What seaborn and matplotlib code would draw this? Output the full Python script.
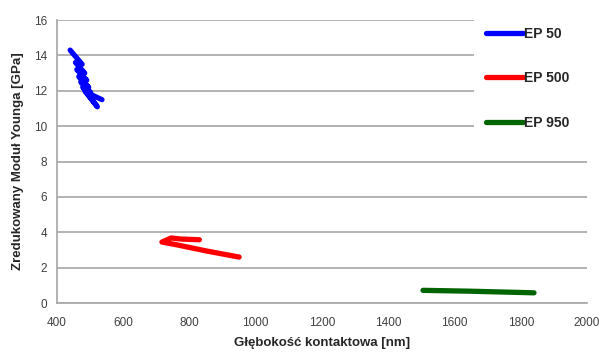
import matplotlib
matplotlib.use("Agg")
import matplotlib.pyplot as plt
import pandas as pd
import seaborn as sns

# EP 50 - kilka nakladajacych sie krzywych
ep50_x = [440, 476, 456, 484, 460, 490, 466, 496, 472, 502, 478, 508, 484, 522, 490, 536]
ep50_y = [14.3, 13.5, 13.6, 13.0, 13.2, 12.6, 12.8, 12.2, 12.5, 11.9, 12.2, 11.7, 12.0, 11.1, 11.9, 11.5]

# EP 500
ep500_x = [950, 850, 760, 717, 745, 775, 830]
ep500_y = [2.6, 2.95, 3.3, 3.45, 3.68, 3.62, 3.58]

# EP 950
ep950_x = [1505, 1650, 1840]
ep950_y = [0.72, 0.67, 0.58]

labels = ["EP 50", "EP 500", "EP 950"]
colors = ["#0000ff", "#ff0000", "#006400"]

df = pd.concat([
    pd.DataFrame({"x": ep50_x, "y": ep50_y, "seria": labels[0]}),
    pd.DataFrame({"x": ep500_x, "y": ep500_y, "seria": labels[1]}),
    pd.DataFrame({"x": ep950_x, "y": ep950_y, "seria": labels[2]}),
])

sns.set_style("white")
plt.rcParams["font.family"] = ["Liberation Sans", "DejaVu Sans"]

fig = plt.figure(figsize=(5.99, 3.52), dpi=100)
ax = fig.add_axes([0.095, 0.139, 0.885, 0.804])

sns.lineplot(data=df, x="x", y="y", hue="seria", palette=colors, sort=False,
             estimator=None, linewidth=3.8, ax=ax, legend=False)

ax.set_xlim(400, 2000)
ax.set_ylim(0, 16)
ax.set_xticks(range(400, 2001, 200))
ax.set_yticks(range(0, 17, 2))
ax.yaxis.grid(True, color="#a6a6a6", linewidth=1.2)
ax.set_axisbelow(True)
for s in ["top", "right"]:
    ax.spines[s].set_visible(False)
for s in ["left", "bottom"]:
    ax.spines[s].set_color("#a6a6a6")
    ax.spines[s].set_linewidth(1.2)
ax.tick_params(axis="both", length=0, labelsize=8.5, labelcolor="#404040")
ax.tick_params(axis="x", pad=10)
ax.tick_params(axis="y", pad=7)

ax.set_xlabel("Głębokość kontaktowa [nm]", fontsize=9.5, fontweight="bold", labelpad=6)
ax.set_ylabel("Zredukowany Moduł Younga [GPa]", fontsize=9.5, fontweight="bold", labelpad=7)

# biale tlo legendy zaslaniajace siatke
fig.patches.append(plt.Rectangle((474 / 599, 1 - 141 / 352), 125 / 599, 124 / 352,
                                 transform=fig.transFigure, facecolor="white",
                                 edgecolor="none", zorder=3))

handles = [plt.Line2D([], [], color=c, linewidth=3.8) for c in colors]
leg = fig.legend(handles, labels, loc="upper left",
                 bbox_to_anchor=(480 / 599, 1 - 21 / 352),
                 frameon=False, handlelength=2.7, handletextpad=0.1,
                 labelspacing=2.2, borderpad=0.4, borderaxespad=0,
                 prop={"weight": "bold", "size": 10})
leg.set_zorder(4)

fig.savefig("out.png", dpi=100)
